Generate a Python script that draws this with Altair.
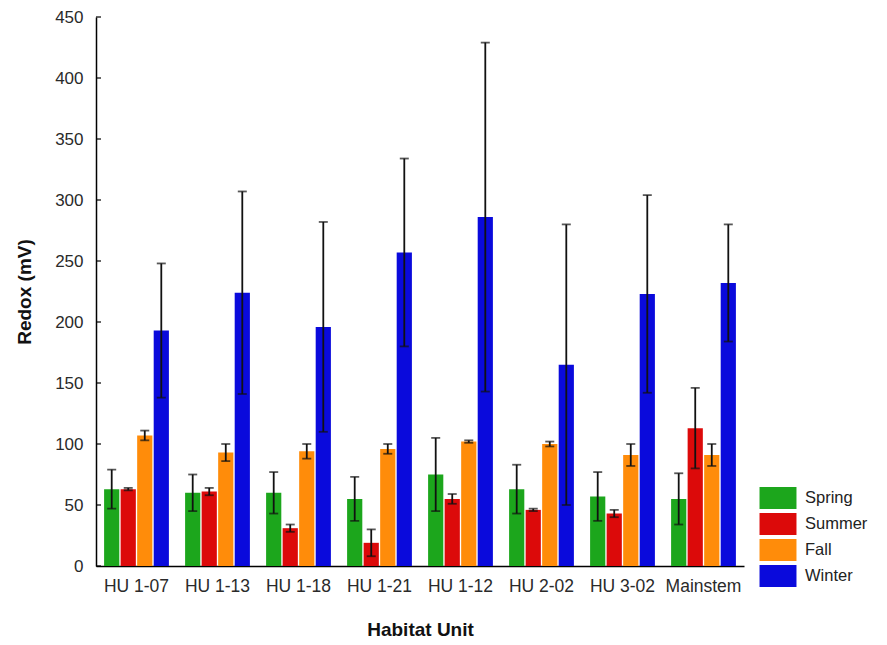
import altair as alt
import pandas as pd

units = ["HU 1-07", "HU 1-13", "HU 1-18", "HU 1-21", "HU 1-12", "HU 2-02", "HU 3-02", "Mainstem"]
seasons = ["Spring", "Summer", "Fall", "Winter"]
colors = ["#1ca61c", "#dc0a0a", "#ff8c0a", "#0a0adc"]

spring = [63, 60, 60, 55, 75, 63, 57, 55]
spring_err = [16, 15, 17, 18, 30, 20, 20, 21]
summer = [63, 61, 31, 19, 55, 46, 43, 113]
summer_err = [1, 3, 3, 11, 4, 1, 3, 33]
fall = [107, 93, 94, 96, 102, 100, 91, 91]
fall_err = [4, 7, 6, 4, 1, 2, 9, 9]
winter = [193, 224, 196, 257, 286, 165, 223, 232]
winter_err = [55, 83, 86, 77, 143, 115, 81, 48]

y_ticks = [0, 50, 100, 150, 200, 250, 300, 350, 400, 450]

rows = []
for s, vals, errs in zip(seasons, [spring, summer, fall, winter],
                         [spring_err, summer_err, fall_err, winter_err]):
    for u, v, e in zip(units, vals, errs):
        rows.append({"unit": u, "season": s, "value": v, "err": e,
                     "lo": v - e, "hi": v + e})
df = pd.DataFrame(rows)
ticks_df = pd.DataFrame({"t": y_ticks})

FONT = "Liberation Sans"

x_enc = alt.X("unit:N", sort=units, title="Habitat Unit",
              scale=alt.Scale(paddingInner=0.2, paddingOuter=0.1),
              axis=alt.Axis(labelAngle=0, ticks=False, labelFontSize=17.5,
                            labelColor="#2a2a2a", labelPadding=11,
                            titleFontSize=19, titleFontWeight="bold",
                            titleColor="#111111", titlePadding=26,
                            domainColor="#000000", domainWidth=1.5,
                            labelFont=FONT, titleFont=FONT))
xo_enc = alt.XOffset("season:N", sort=seasons,
                     scale=alt.Scale(paddingInner=0.08))
y_scale = alt.Scale(domain=[0, 450], nice=False)

bars = alt.Chart(df).mark_bar().encode(
    x=x_enc,
    xOffset=xo_enc,
    y=alt.Y("value:Q", scale=y_scale, title="Redox (mV)",
            axis=alt.Axis(values=y_ticks, ticks=False, grid=False,
                          labelFontSize=17, labelColor="#2a2a2a",
                          labelPadding=13, titleFontSize=19,
                          titleFontWeight="bold", titleColor="#111111",
                          titlePadding=20, domainColor="#000000",
                          domainWidth=1.5, labelFont=FONT, titleFont=FONT)),
    color=alt.Color("season:N", sort=seasons,
                    scale=alt.Scale(domain=seasons, range=colors),
                    legend=alt.Legend(title=None, orient="none",
                                      legendX=671, legendY=470,
                                      symbolType="M-1.68,-1L1.68,-1L1.68,1L-1.68,1Z",
                                      symbolSize=484, symbolStrokeWidth=0,
                                      labelFontSize=16.5, labelColor="#222222",
                                      labelFont=FONT, labelOffset=16,
                                      rowPadding=4)),
)

err = alt.Chart(df).mark_rule(color="#111111", strokeWidth=1.8).encode(
    x=alt.X("unit:N", sort=units),
    xOffset=xo_enc,
    y=alt.Y("lo:Q", scale=y_scale),
    y2="hi:Q",
)

cap_hi = alt.Chart(df).mark_tick(color="#111111", thickness=1.8, size=9,
                                 orient="horizontal").encode(
    x=alt.X("unit:N", sort=units),
    xOffset=xo_enc,
    y=alt.Y("hi:Q", scale=y_scale),
)
cap_lo = alt.Chart(df).mark_tick(color="#111111", thickness=1.8, size=9,
                                 orient="horizontal").encode(
    x=alt.X("unit:N", sort=units),
    xOffset=xo_enc,
    y=alt.Y("lo:Q", scale=y_scale),
)

inner_ticks = alt.Chart(ticks_df).mark_rule(color="#000000", strokeWidth=1.2).encode(
    y=alt.Y("t:Q", scale=y_scale),
    x=alt.value(0),
    x2=alt.value(5),
)

chart = alt.layer(bars, err, cap_hi, cap_lo, inner_ticks).properties(
    width=648, height=549,
    autosize=alt.AutoSizeParams(type="none"),
    padding={"left": 88, "top": 9, "right": 135, "bottom": 76},
).configure(background="white").configure_view(stroke=None, strokeWidth=0)

chart.save("out.html", embed_options={"renderer": "svg", "actions": False})
